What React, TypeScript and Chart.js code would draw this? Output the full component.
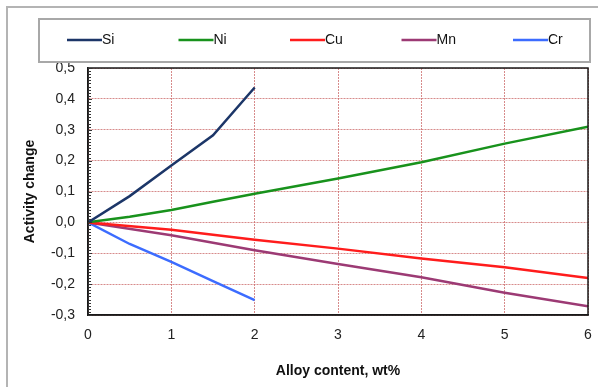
import React, { useEffect, useRef } from "react";
import { Chart, registerables } from "chart.js";

Chart.register(...registerables);

const seriesNames = ["Si", "Ni", "Cu", "Mn", "Cr"];
const seriesColors = ["#1c3668", "#18921c", "#ff1c1c", "#9c3a74", "#3c6cff"];

const siX = [0, 0.5, 1, 1.5, 2];
const siY = [0, 0.085, 0.184, 0.282, 0.437];
const niX = [0, 0.5, 1, 1.5, 2, 3, 4, 5, 6];
const niY = [0, 0.018, 0.04, 0.067, 0.093, 0.142, 0.195, 0.255, 0.31];
const cuX = [0, 1, 2, 3, 4, 5, 6];
const cuY = [0, -0.024, -0.056, -0.085, -0.117, -0.145, -0.18];
const mnX = [0, 1, 2, 3, 4, 5, 6];
const mnY = [0, -0.042, -0.09, -0.135, -0.178, -0.228, -0.272];
const crX = [0, 0.5, 1, 1.5, 2];
const crY = [0, -0.07, -0.128, -0.19, -0.252];

const xTitle = "Alloy content, wt%";
const yTitle = "Activity change";
const xMin = 0, xMax = 6, yMin = -0.3, yMax = 0.5;

const FONT = '"Liberation Sans", Arial, sans-serif';

function pts(xs: number[], ys: number[]) {
  return xs.map((x, i) => ({ x, y: ys[i] }));
}

const decorPlugin = {
  id: "decor",
  beforeDraw(chart: any) {
    const ctx = chart.ctx;
    ctx.save();
    ctx.fillStyle = "#ffffff";
    ctx.fillRect(0, 0, chart.width, chart.height);
    ctx.strokeStyle = "#b4b4b4";
    ctx.lineWidth = 2;
    ctx.beginPath();
    ctx.moveTo(7, chart.height + 2);
    ctx.lineTo(7, 7);
    ctx.lineTo(chart.width + 2, 7);
    ctx.stroke();
    ctx.restore();
  },
  afterDraw(chart: any) {
    const ctx = chart.ctx;
    const a = chart.chartArea;
    const ys = chart.scales.y;
    ctx.save();
    ctx.strokeStyle = "#1a1a1a";
    ctx.lineWidth = 1.5;
    ctx.strokeRect(a.left, a.top, a.right - a.left, a.bottom - a.top);
    ctx.lineWidth = 1;
    ctx.strokeStyle = "#333";
    for (let i = 0; i <= 80; i++) {
      const v = yMin + i * 0.01;
      const py = Math.round(ys.getPixelForValue(v)) + 0.5;
      ctx.beginPath();
      ctx.moveTo(a.left, py);
      ctx.lineTo(a.left + (i % 10 === 0 ? 4 : 3), py);
      ctx.stroke();
    }
    ctx.strokeStyle = "#a8a8a8";
    ctx.lineWidth = 2;
    ctx.strokeRect(39, 19, 551, 43);
    ctx.font = `14px ${FONT}`;
    ctx.textBaseline = "middle";
    ctx.textAlign = "left";
    chart.data.datasets.forEach((ds: any, i: number) => {
      const x0 = 67 + i * 111.5;
      ctx.strokeStyle = ds.borderColor;
      ctx.lineWidth = 2.5;
      ctx.beginPath();
      ctx.moveTo(x0, 40);
      ctx.lineTo(x0 + 35, 40);
      ctx.stroke();
      ctx.fillStyle = "#111";
      ctx.fillText(ds.label, x0 + 35, 40);
    });
    ctx.restore();
  },
};

export default function App() {
  const ref = useRef<HTMLCanvasElement | null>(null);
  useEffect(() => {
    if (!ref.current) return;
    const xs = [siX, niX, cuX, mnX, crX];
    const yv = [siY, niY, cuY, mnY, crY];
    const gridColor = "rgba(205,110,110,0.8)";
    const chart = new Chart(ref.current, {
      type: "line",
      data: {
        datasets: seriesNames.map((n, i) => ({
          label: n,
          data: pts(xs[i], yv[i]),
          borderColor: seriesColors[i],
          backgroundColor: seriesColors[i],
          borderWidth: 2.5,
          pointRadius: 0,
          tension: 0,
          fill: false,
        })),
      },
      options: {
        responsive: false,
        animation: false,
        events: [],
        layout: { padding: { top: 68, left: 0, right: 10, bottom: 0 } },
        plugins: { legend: { display: false }, tooltip: { enabled: false } },
        scales: {
          x: {
            type: "linear",
            min: xMin,
            max: xMax,
            ticks: { stepSize: 1, padding: 12, color: "#222", font: { family: FONT, size: 14 } },
            grid: { color: gridColor, lineWidth: 1, drawTicks: false },
            border: { display: true, color: "#1a1a1a", width: 1.5, dash: [2, 1] },
            title: {
              display: true,
              text: xTitle,
              color: "#111",
              font: { family: FONT, size: 14, weight: "bold" },
              padding: { top: 0, bottom: 7 },
            },
            afterFit(scale: any) {
              scale.height = 72;
              scale.paddingLeft = 0;
              scale.paddingRight = 0;
            },
          },
          y: {
            type: "linear",
            min: yMin,
            max: yMax,
            ticks: {
              stepSize: 0.1,
              padding: 13,
              color: "#222",
              font: { family: FONT, size: 14 },
              callback: (v: any) => {
                const r = Math.round(Number(v) * 10);
                const s = (Math.abs(r) / 10).toFixed(1).replace(".", ",");
                return r < 0 ? "-" + s : s;
              },
            },
            grid: { color: gridColor, lineWidth: 1, drawTicks: false },
            border: { display: true, color: "#1a1a1a", width: 1.5, dash: [2, 1] },
            title: {
              display: true,
              text: yTitle,
              color: "#111",
              font: { family: FONT, size: 14, weight: "bold" },
              padding: { top: 22, bottom: 0 },
            },
            afterFit(scale: any) {
              scale.width = 88;
              scale.paddingTop = 0;
              scale.paddingBottom = 0;
            },
          },
        },
      },
      plugins: [decorPlugin],
    } as any);
    return () => chart.destroy();
  }, []);
  return (
    <div style={{ position: "fixed", left: 0, top: 0, width: 598, height: 387 }}>
      <canvas ref={ref} width={598} height={387} style={{ width: 598, height: 387, display: "block" }} />
    </div>
  );
}
